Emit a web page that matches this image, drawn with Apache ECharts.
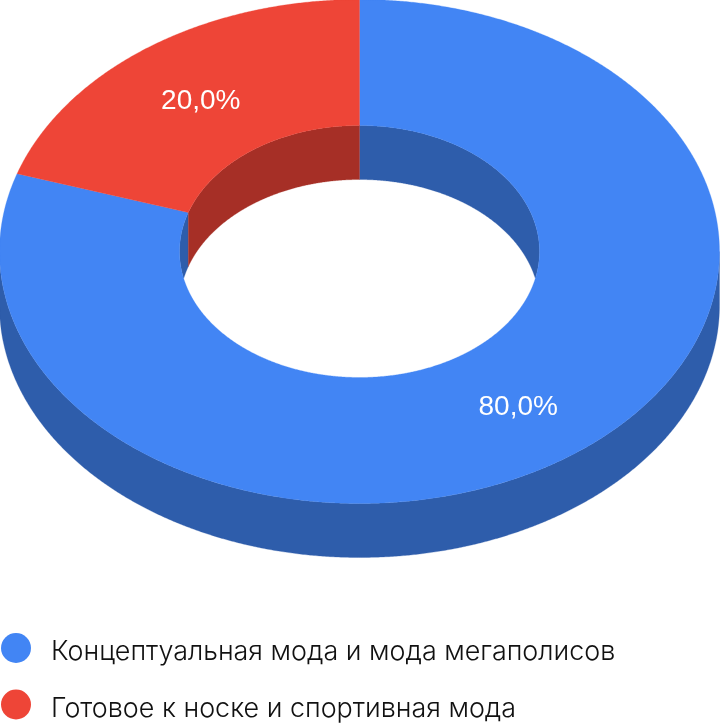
<!DOCTYPE html>
<html><head><meta charset="utf-8">
<style>html,body{margin:0;padding:0;background:#fff}#c{width:720px;height:726px}</style>
<script src="https://cdn.jsdelivr.net/npm/echarts@6/dist/echarts.min.js"></script>
</head><body><div id="c"></div>
<script>
const categories = ['Концептуальная мода и мода мегаполисов', 'Готовое к носке и спортивная мода'];
const shares = [80, 20];
const faceColors = ['#4285F4', '#EE4537'];
const wallColors = ['#2E5DAB', '#A62F26'];

const CX = 359.5, CY = 251.5, RX = 360, RY = 252, HOLE = 0.5, DEPTH = 54, LABEL_DY = 3;
const total = shares.reduce((a, b) => a + b, 0);

function pt(t, k, dy) {
  return [CX + RX * k * Math.sin(t), CY - RY * k * Math.cos(t) + (dy || 0)];
}
function samples(a, b) {
  const n = Math.max(2, Math.ceil(Math.abs(b - a) / 0.005));
  const out = [];
  for (let i = 0; i <= n; i++) out.push(a + (b - a) * i / n);
  return out;
}
function face(a, b) {
  const s = samples(a, b);
  return s.map(t => pt(t, 1)).concat(s.slice().reverse().map(t => pt(t, HOLE)));
}
function outerWall(a, b) {
  const lo = Math.max(a, Math.PI / 2), hi = Math.min(b, Math.PI * 1.5);
  if (hi <= lo) return null;
  const s = samples(lo, hi);
  return s.map(t => pt(t, 1)).concat(s.slice().reverse().map(t => pt(t, 1, DEPTH)));
}
// inner wall: seen through the hole, clipped by the hole's near rim
function innerWall(a, b) {
  const s = samples(a, b);
  const top = s.map(t => pt(t, HOLE));
  const bottom = s.map(t => {
    const p = pt(t, HOLE, DEPTH);
    const limit = CY + RY * HOLE * Math.abs(Math.cos(t));
    return [p[0], Math.min(p[1], limit)];
  });
  return top.concat(bottom.reverse());
}
function poly(points, fill) {
  return { type: 'polygon', shape: { points }, style: { fill, stroke: fill, lineWidth: 0.3 } };
}
function makeRender(idx) {
  const before = shares.slice(0, idx).reduce((a, b) => a + b, 0);
  return function (params, api) {
    const a = before / total * 2 * Math.PI;
    const b = (before + api.value(0)) / total * 2 * Math.PI;
    const children = [];
    const w = outerWall(a, b);
    if (w) children.push(poly(w, wallColors[idx]));
    // inner wall visible on the far half only: [0,90] and [270,360]
    [[0, Math.PI / 2], [Math.PI * 1.5, Math.PI * 2]].forEach(r => {
      const lo = Math.max(a, r[0]), hi = Math.min(b, r[1]);
      if (hi > lo) children.push(poly(innerWall(lo, hi), wallColors[idx]));
    });
    children.push(poly(face(a, b), faceColors[idx]));
    const mid = pt((a + b) / 2, (1 + HOLE) / 2, LABEL_DY);
    const txt = (api.value(0) / total * 100).toFixed(1).replace('.', ',') + '%';
    children.push({
      type: 'text', z2: 10,
      style: { text: txt, x: mid[0], y: mid[1], fill: '#fff', align: 'center', verticalAlign: 'middle',
        font: '28px "Liberation Sans", Arial, sans-serif' }
    });
    return { type: 'group', children };
  };
}

const chart = echarts.init(document.getElementById('c'), null, { renderer: 'canvas' });
chart.setOption({
  animation: false,
  color: faceColors,
  legend: {
    orient: 'vertical', left: 1, top: 633,
    padding: 0, itemWidth: 30, itemHeight: 30, itemGap: 24, icon: 'circle',
    selectedMode: false,
    data: categories,
    formatter: name => '{t|' + name + '}',
    textStyle: {
      rich: { t: { color: '#111', fontSize: 26.9, fontWeight: 300, fontFamily: 'Inter, sans-serif', padding: [8, 0, 0, 15] } }
    }
  },
  series: categories.map((name, i) => ({
    type: 'custom', name, coordinateSystem: 'none', silent: true,
    itemStyle: { color: faceColors[i] },
    renderItem: makeRender(i),
    data: [shares[i]]
  }))
});
</script></body></html>
